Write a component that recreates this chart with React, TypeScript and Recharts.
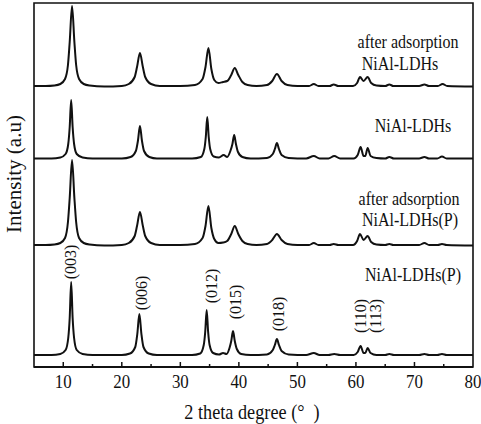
import React from "react";
import { LineChart, Line, XAxis, YAxis, ReferenceArea, Customized } from "recharts";

// 2θ (degree) vs intensity (a.u.)
const afterNiAl: [number, number][] = [
  [5, 1], [7, 1], [8.5, 1.5], [9.5, 3], [10.3, 8], [10.8, 22], [11.1, 45], [11.5, 81], [11.9, 45], [12.2, 22], [12.7, 8], [13.5, 3], [14.5, 1.5], [17, 0.5],
  [20, 1], [21.2, 3], [22.2, 10], [22.6, 20], [23.1, 34], [23.6, 20], [24.0, 10], [25, 3], [26.5, 1], [30, 1],
  [32.5, 2], [33.8, 8], [34.3, 20], [34.8, 39], [35.3, 18], [35.8, 7], [36.5, 4], [37.3, 5], [38.0, 6], [38.7, 12], [39.3, 19], [39.9, 12], [40.6, 5], [41.5, 2], [43, 1],
  [44.8, 2], [45.7, 6], [46.5, 13], [47.3, 6], [48.3, 2], [50, 1], [52, 1], [52.8, 3], [53.6, 1], [55.5, 1], [56.2, 2.5], [57, 1],
  [59.5, 1], [60.2, 4], [60.7, 10], [61.3, 6], [62.0, 10], [62.6, 4], [63.5, 1.5], [65, 1], [65.7, 2.5], [66.4, 1],
  [70.8, 1], [71.7, 2.5], [72.5, 1], [74, 1], [74.8, 3], [75.6, 1], [80, 0.5],
];

const niAl: [number, number][] = [
  [5, 0.5], [8, 0.5], [9.5, 1.5], [10.4, 5], [10.85, 15], [11.1, 32], [11.35, 59], [11.6, 32], [11.85, 15], [12.3, 5], [13.3, 1.5], [15, 0.5],
  [20, 0.5], [21.5, 2], [22.4, 8], [22.75, 18], [23.1, 33], [23.45, 18], [23.8, 8], [24.7, 2], [26, 0.5], [32, 0.5],
  [33.5, 2], [34.1, 10], [34.35, 22], [34.6, 42], [34.85, 22], [35.1, 10], [35.7, 2.5], [36.6, 1.5], [37.4, 4], [38.0, 2],
  [38.55, 8], [38.9, 15], [39.2, 24], [39.5, 15], [39.85, 7], [40.6, 2], [42, 0.5],
  [44.8, 1], [45.8, 5], [46.15, 10], [46.5, 16], [46.85, 10], [47.3, 4], [48.5, 1], [51.5, 0.5], [52.8, 3], [53.8, 0.5], [55.3, 0.5], [56.3, 3], [57.3, 0.5],
  [59.6, 0.5], [60.3, 4], [60.8, 12], [61.3, 3], [61.6, 3], [62.0, 11], [62.5, 3], [63.5, 1], [65, 0.5], [65.7, 2], [66.5, 0.5],
  [70.8, 0.5], [71.7, 2], [72.5, 0.5], [73.9, 0.5], [74.7, 2.5], [75.5, 0.5], [80, 0.5],
];

const afterNiAlP: [number, number][] = [
  [5, 1], [7, 1], [8.5, 1.5], [9.5, 3], [10.3, 8], [10.8, 24], [11.1, 48], [11.5, 86], [11.9, 48], [12.2, 24], [12.7, 8], [13.5, 3], [14.5, 1.5], [17, 0.5],
  [20, 1], [21.2, 3], [22.2, 10], [22.6, 20], [23.1, 34], [23.6, 20], [24.0, 10], [25, 3], [26.5, 1], [30, 1],
  [32.5, 2], [33.8, 8], [34.3, 20], [34.8, 40], [35.3, 18], [35.8, 7], [36.5, 3], [37.3, 3.5], [38.0, 5], [38.7, 12], [39.3, 20], [39.9, 12], [40.6, 5], [41.5, 2], [43, 1],
  [44.8, 2], [45.7, 6], [46.5, 12], [47.3, 6], [48.3, 2], [50, 1], [52, 1], [52.8, 3], [53.6, 1], [55.5, 1], [56.2, 2], [57, 1],
  [59.5, 1], [60.2, 5], [60.7, 12], [61.3, 6], [62.0, 10], [62.6, 4], [63.5, 1.5], [65, 1], [65.7, 2], [66.4, 1],
  [70.8, 1], [71.7, 3], [72.5, 1], [74, 1], [74.7, 2], [75.5, 1], [80, 0.5],
];

const niAlP: [number, number][] = [
  [5, 1], [8, 1], [9.5, 2], [10.4, 6], [10.85, 18], [11.1, 38], [11.35, 74], [11.6, 38], [11.85, 18], [12.3, 6], [13.3, 2], [15, 1],
  [20, 1], [21.4, 2.5], [22.3, 9], [22.65, 22], [23.0, 42], [23.35, 22], [23.7, 9], [24.6, 2.5], [26, 1], [32, 1],
  [33.4, 2.5], [34.0, 11], [34.25, 24], [34.5, 46], [34.75, 24], [35.0, 11], [35.6, 3], [36.6, 1.5], [37.3, 3], [37.9, 2],
  [38.4, 8], [38.7, 15], [39.0, 25], [39.3, 15], [39.65, 7], [40.4, 2], [42, 1],
  [44.8, 1.5], [45.8, 6], [46.15, 11], [46.5, 17], [46.85, 11], [47.3, 5], [48.5, 1.5], [51.5, 1], [52.8, 3], [53.8, 1], [55.3, 1], [56.3, 2], [57.3, 1],
  [59.6, 1], [60.3, 4], [60.8, 10], [61.3, 3], [61.6, 3], [62.0, 8], [62.5, 3], [63.5, 1], [65, 1], [65.7, 2], [66.5, 1],
  [70.8, 1], [71.7, 2], [72.5, 1], [73.9, 1], [74.7, 2], [75.5, 1], [80, 1],
];

const seriesList = [afterNiAl, niAl, afterNiAlP, niAlP];
const stackOffsets = [280, 208, 121, 11];
const xTicks = [10, 15, 20, 25, 30, 35, 40, 45, 50, 55, 60, 65, 70, 75, 80];
const xDomain: [number, number] = [5, 80];
const yDomain: [number, number] = [0, 364];

const FONT = "'Liberation Serif', 'Times New Roman', 'DejaVu Serif', serif";
const SX = 0.89;

const seriesData = seriesList.map((s, i) => s.map(([t, v]) => ({ t, v: v + stackOffsets[i] })));

const STxt = ({ x, y, children, size = 18 }: any) => (
  <g transform={`translate(${x},${y}) scale(${SX},1)`}>
    <text x={0} y={0} textAnchor="middle" style={{ fontFamily: FONT, fontSize: size }} fill="#111">
      {children}
    </text>
  </g>
);

const RTxt = ({ x, y, children, size = 16 }: any) => (
  <text
    x={x}
    y={y}
    transform={`rotate(-90 ${x} ${y})`}
    textAnchor="middle"
    dominantBaseline="central"
    style={{ fontFamily: FONT, fontSize: size }}
    fill="#111"
  >
    {children}
  </text>
);

const XTick = (props: any) => {
  const { x, y, payload } = props;
  const v = payload.value;
  const major = v % 10 === 0;
  return (
    <g>
      {v < 80 && <line x1={x} y1={y} x2={x} y2={y - (major ? 5 : 3)} stroke="#111" strokeWidth={1.5} />}
      {major && <STxt x={x} y={y + 21} size={19}>{String(v)}</STxt>}
    </g>
  );
};

const Labels = () => (
  <g>
    <STxt x={408} y={48}>after adsorption</STxt>
    <STxt x={400} y={70}>NiAl-LDHs</STxt>
    <STxt x={413} y={132}>NiAl-LDHs</STxt>
    <STxt x={409} y={205}>after adsorption</STxt>
    <STxt x={410} y={226}>NiAl-LDHs(P)</STxt>
    <STxt x={413} y={281}>NiAl-LDHs(P)</STxt>
    <RTxt x={70.5} y={262}>(003)</RTxt>
    <RTxt x={141} y={293}>(006)</RTxt>
    <RTxt x={211} y={286}>(012)</RTxt>
    <RTxt x={235} y={302}>(015)</RTxt>
    <RTxt x={278} y={314}>(018)</RTxt>
    <RTxt x={360} y={316}>(110)</RTxt>
    <RTxt x={375} y={316}>(113)</RTxt>
    <STxt x={252} y={419} size={20.5}>{"2 theta degree (°\u00a0\u00a0)"}</STxt>
    <text
      x={21}
      y={174}
      transform="rotate(-90 21 174)"
      textAnchor="middle"
      style={{ fontFamily: FONT, fontSize: 21 }}
      fill="#111"
    >
      Intensity (a.u)
    </text>
  </g>
);

export default function App() {
  return (
    <div style={{ position: "absolute", left: 0, top: 0, width: 481, height: 424, background: "#fff" }}>
      <LineChart width={481} height={424} margin={{ top: 3, right: 8, bottom: 0, left: 34 }}>
        <XAxis
          dataKey="t"
          type="number"
          domain={xDomain}
          ticks={xTicks}
          allowDataOverflow
          height={57}
          tickSize={0}
          tickMargin={0}
          tickLine={false}
          axisLine={{ stroke: "#111", strokeWidth: 2 }}
          tick={<XTick />}
          interval={0}
        />
        <YAxis type="number" domain={yDomain} hide allowDataOverflow />
        <ReferenceArea
          x1={5}
          x2={80}
          y1={0}
          y2={364}
          fill="none"
          fillOpacity={0}
          stroke="#111"
          strokeWidth={1.6}
          ifOverflow="visible"
        />
        {seriesData.map((d, i) => (
          <Line
            key={i}
            data={d}
            dataKey="v"
            type="monotone"
            stroke="#111"
            strokeWidth={2}
            dot={false}
            activeDot={false}
            isAnimationActive={false}
          />
        ))}
        <Customized component={Labels} />
      </LineChart>
    </div>
  );
}
